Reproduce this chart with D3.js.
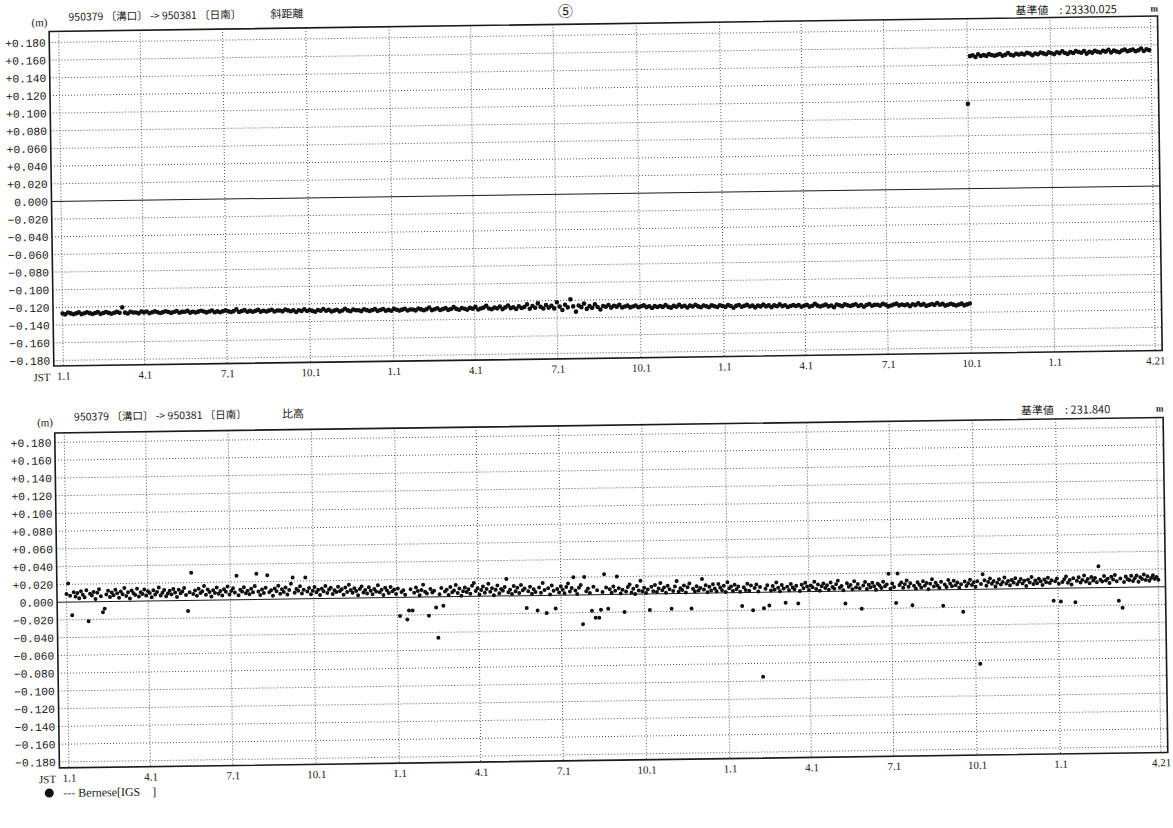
<!DOCTYPE html>
<html>
<head>
<meta charset="utf-8">
<script src="https://cdn.jsdelivr.net/npm/d3@7"></script>
<style>
body { margin: 0; background: #fff; }
svg { display: block; }
</style>
</head>
<body>
<svg></svg>
<script>
const width = 1173;
const height = 828;
const tilt = -0.8; // the scanned page is a little rotated

// 斜距離: one value every 3 days, in mm
const slopeStep = 3;
const slopeStartA = "1997-01-01";
const slopeA = [
  -127,-128,-126,-127,-128,-127,-126,-128,-127,-126,
  -127,-128,-127,-126,-128,-127,-126,-127,-128,-127,
  -126,-127,-121,-127,-128,-126,-127,-127,-128,-126,
  -127,-126,-128,-127,-126,-127,-128,-127,-126,-127,
  -128,-127,-126,-128,-127,-127,-126,-128,-127,-128,
  -127,-126,-127,-128,-127,-126,-128,-127,-128,-127,
  -126,-127,-128,-127,-125,-128,-127,-126,-128,-127,
  -128,-127,-126,-128,-127,-128,-127,-126,-128,-127,
  -127,-128,-126,-127,-128,-127,-129,-127,-128,-126,
  -128,-127,-128,-129,-127,-128,-126,-128,-127,-129,
  -128,-127,-129,-128,-126,-128,-129,-127,-128,-128,
  -129,-127,-128,-129,-128,-127,-129,-128,-127,-129,
  -128,-129,-127,-128,-129,-128,-127,-129,-128,-128,
  -129,-127,-128,-129,-128,-126,-129,-128,-127,-129,
  -128,-127,-129,-128,-126,-128,-129,-127,-128,-129,
  -127,-128,-126,-129,-128,-127,-125,-128,-129,-127,
  -128,-126,-129,-127,-125,-128,-127,-129,-126,-128,
  -127,-124,-129,-126,-128,-123,-127,-129,-125,-128,
  -126,-129,-122,-127,-131,-125,-128,-119,-127,-133,
  -126,-128,-124,-130,-127,-129,-125,-128,-131,-127,
  -128,-126,-129,-127,-128,-126,-129,-128,-127,-129,
  -128,-127,-129,-128,-127,-129,-128,-130,-128,-129,
  -128,-129,-127,-129,-130,-128,-129,-127,-129,-128,
  -130,-128,-129,-127,-129,-130,-128,-129,-130,-128,
  -129,-130,-128,-129,-130,-128,-129,-131,-129,-128,
  -130,-129,-128,-130,-129,-131,-129,-130,-128,-130,
  -129,-131,-129,-130,-128,-130,-129,-131,-130,-129,
  -130,-129,-131,-130,-129,-131,-130,-128,-130,-131,
  -130,-129,-131,-130,-132,-129,-130,-131,-129,-130,
  -131,-130,-129,-131,-130,-132,-130,-129,-131,-130,
  -130,-131,-129,-130,-132,-131,-130,-129,-131,-130,
  -131,-130,-132,-130,-131,-129,-131,-130,-132,-131,
  -130,-131,-129,-131,-130,-132,-131,-130,-131,-132,
  -131,-130,-132,-131,-130
];

const slopeStartB = "1999-10-01";
const slopeB = [
  96,150,151,149,152,150,151,150,152,151,
  150,151,152,150,151,153,151,150,152,151,
  152,151,153,152,150,152,151,153,152,151,
  153,152,151,153,152,154,152,151,153,152,
  154,153,152,154,151,153,152,154,153,152,
  154,153,155,152,154,153,152,154,155,153,
  154,155,153,154,156,153,155,154
];

// 比高: one value every 2 days, in mm
const heightStep = 2;
const heightStart = "1997-01-01";
const heightVals = [
  9,21,7,-15,11,6,10,4,12,8,
  5,13,-22,9,7,11,3,10,14,6,
  -12,-8,8,12,5,10,7,13,9,4,
  11,8,15,6,10,3,12,9,7,14,
  5,10,8,13,6,11,9,4,12,7,
  10,15,6,9,12,5,8,11,7,13,
  9,4,12,8,10,14,6,-12,9,31,
  7,11,5,13,8,10,16,6,12,9,
  4,11,8,14,7,10,5,12,9,15,
  6,10,13,8,27,5,11,9,14,7,
  10,6,12,8,15,29,9,5,11,7,
  13,27,8,10,4,12,9,15,6,11,
  8,13,5,10,17,24,7,11,9,14,
  6,10,24,8,12,5,9,13,7,10,
  4,11,8,14,6,10,12,5,9,7,
  13,8,10,4,12,7,15,9,6,11,
  8,3,10,13,6,9,5,12,8,4,
  10,7,14,6,9,3,11,8,5,12,
  7,9,4,10,-21,6,8,3,-25,-15,
  9,-15,5,11,7,2,8,14,6,4,
  -21,9,5,7,-12,-46,3,10,-10,6,
  8,2,11,5,7,13,4,9,1,6,
  10,5,8,3,12,15,6,9,2,7,
  11,4,8,14,5,9,1,7,12,3,
  8,6,10,19,4,7,2,11,5,9,
  3,12,6,8,-14,5,10,2,7,4,
  -17,9,3,14,6,-20,8,1,11,5,
  -15,7,3,10,6,2,9,13,4,8,
  20,5,1,8,11,-33,20,4,7,2,
  -18,9,-26,5,-26,-17,3,23,8,-16,
  6,2,9,4,20,7,1,5,-20,3,
  8,11,2,6,0,9,4,15,3,7,
  1,5,-18,8,3,10,2,6,12,4,
  7,1,9,5,-17,3,8,14,2,6,
  4,9,1,7,11,-17,5,2,8,3,
  6,16,4,9,1,7,3,10,5,2,
  10,6,3,8,1,12,5,7,2,9,
  4,7,1,-15,6,3,10,2,8,-20,
  5,9,1,6,-95,-18,4,8,-15,2,
  7,3,11,5,1,8,4,-12,6,2,
  9,5,3,7,-13,1,8,4,10,6,
  2,7,5,11,3,8,1,6,9,4,
  7,2,10,5,3,8,12,4,6,1,
  -14,9,5,7,2,11,4,8,3,-20,
  6,10,2,7,4,9,5,1,8,6,
  3,10,5,7,19,2,8,4,-14,19,
  6,9,3,7,11,4,8,-17,5,2,
  9,6,3,10,5,8,1,7,12,4,
  8,5,2,9,-18,6,3,11,7,4,
  10,5,8,2,6,-25,9,4,7,11,
  5,8,3,9,-84,6,17,10,4,8,
  12,6,9,3,7,11,5,8,13,6,
  9,4,10,7,12,5,8,11,6,9,
  3,10,7,13,5,9,6,11,8,4,
  10,7,12,6,9,-14,8,11,5,-15,
  7,10,13,6,9,4,11,-16,8,12,
  6,9,14,7,10,5,12,8,11,6,
  24,9,7,13,8,10,5,12,9,14,
  7,-15,10,-23,6,12,9,8,13,7,
  10,13,6,11,9,14,8,12,7,10,
  13,9,11,8
];

const xTicks = [
  "1997-01-01","1997-04-01","1997-07-01","1997-10-01",
  "1998-01-01","1998-04-01","1998-07-01","1998-10-01",
  "1999-01-01","1999-04-01","1999-07-01","1999-10-01",
  "2000-01-01","2000-04-21"
];
const yTicks = [0.18,0.16,0.14,0.12,0.10,0.08,0.06,0.04,0.02,0,
  -0.02,-0.04,-0.06,-0.08,-0.10,-0.12,-0.14,-0.16,-0.18];

const route = "950379 〔溝口〕 -> 950381 〔日南〕";
const kinds = ["斜距離", "比高"];
const baseValues = ["23330.025", "231.840"];

const parse = d3.timeParse("%Y-%m-%d");
const toPoints = (start, step, vals) => {
  const t0 = parse(start);
  return vals.map((v, i) => ({ date: d3.timeDay.offset(t0, i * step), v: v / 1000 }));
};

const svg = d3.select("svg").attr("width", width).attr("height", height);
const page = svg.append("g").attr("transform", `rotate(${tilt}, 50, 201)`);

const monoFont = "'Liberation Mono', 'DejaVu Sans Mono', monospace";
const serifFont = "'Liberation Serif', 'DejaVu Serif', serif";
const cjkFont = "'Noto Sans CJK JP', 'Noto Sans', sans-serif";
const ink = "#1a1a1a";

const left = 51.5, right = 1160;
const x = d3.scaleTime()
  .domain([parse(xTicks[0]), parse(xTicks[xTicks.length - 1])])
  .range([61, 1153]);

const panels = [
  { top: 31.5, bottom: 366, yTop: 42.5, yBot: 360.5, head: 21, r: 2.3,
    data: toPoints(slopeStartA, slopeStep, slopeA).concat(toPoints(slopeStartB, slopeStep, slopeB)) },
  { top: 433, bottom: 768, yTop: 442.5, yBot: 762, head: 421, r: 2,
    data: toPoints(heightStart, heightStep, heightVals) }
];

function drawPanel(p, k) {
  const g = page.append("g");
  const y = d3.scaleLinear().domain([-0.18, 0.18]).range([p.yBot, p.yTop]);

  // header line
  g.append("text").attr("x", 34).attr("y", p.head + 5)
    .style("font-family", serifFont).style("font-size", "11px").attr("fill", ink)
    .text("(m)");
  g.append("text").attr("x", 71).attr("y", p.head)
    .style("font-family", cjkFont).style("font-size", "10.5px").attr("fill", ink)
    .text(route);
  g.append("text").attr("x", k === 0 ? 273 : 279).attr("y", p.head)
    .style("font-family", cjkFont).style("font-size", "11px").attr("fill", ink)
    .text(kinds[k]);
  g.append("text").attr("x", 1018).attr("y", p.head + 7)
    .style("font-family", cjkFont).style("font-size", "11px").attr("fill", ink)
    .text("基準値　: " + baseValues[k]);
  g.append("text").attr("x", 1153).attr("y", p.head + 6)
    .style("font-family", serifFont).style("font-size", "9px").style("font-weight", "bold")
    .attr("fill", ink).text("m");

  // grid
  g.selectAll(".hgrid").data(yTicks.filter(d => d !== 0)).join("line")
    .attr("x1", left).attr("x2", right)
    .attr("y1", d => y(d)).attr("y2", d => y(d))
    .attr("stroke", "#555").attr("stroke-width", 1).attr("stroke-dasharray", "1,2");
  g.selectAll(".vgrid").data(xTicks).join("line")
    .attr("x1", d => x(parse(d))).attr("x2", d => x(parse(d)))
    .attr("y1", p.top).attr("y2", p.bottom)
    .attr("stroke", "#555").attr("stroke-width", 1).attr("stroke-dasharray", "1,2");

  // zero line
  g.append("line").attr("x1", left).attr("x2", right)
    .attr("y1", y(0)).attr("y2", y(0)).attr("stroke", ink).attr("stroke-width", 1);

  // frame
  g.append("rect").attr("x", left).attr("y", p.top)
    .attr("width", right - left).attr("height", p.bottom - p.top)
    .attr("fill", "none").attr("stroke", ink).attr("stroke-width", 1.6);

  // dots
  g.append("g").selectAll("circle").data(p.data).join("circle")
    .attr("cx", d => x(d.date)).attr("cy", d => y(d.v))
    .attr("r", p.r).attr("fill", "#111");

  // y axis
  const yAxis = g.append("g").attr("transform", "translate(48,0)")
    .call(d3.axisLeft(y).tickValues(yTicks).tickSize(0).tickPadding(0)
      .tickFormat(v => Math.abs(v) < 1e-9 ? "0.000" : d3.format("+.3f")(v)));
  yAxis.select(".domain").remove();
  yAxis.selectAll("text").style("font-family", monoFont).style("font-size", "11.3px")
    .attr("fill", ink);

  // x axis
  const xAxis = g.append("g").attr("transform", `translate(0,${p.bottom})`)
    .call(d3.axisBottom(x).tickValues(xTicks.map(parse)).tickSize(0).tickPadding(6)
      .tickFormat(d3.timeFormat("%-m.%-d")));
  xAxis.select(".domain").remove();
  xAxis.selectAll("text").style("font-family", serifFont).style("font-size", "11px")
    .attr("fill", ink);
  g.append("text").attr("x", 48).attr("y", p.bottom + 15).attr("text-anchor", "end")
    .style("font-family", serifFont).style("font-size", "11px").attr("fill", ink)
    .text("JST");
}

panels.forEach(drawPanel);

// circled page number
page.append("text").attr("x", 568).attr("y", 24).attr("text-anchor", "middle")
  .style("font-family", cjkFont).style("font-size", "15px").attr("fill", ink)
  .text("⑤");

// legend
const legend = page.append("g").attr("transform", "translate(41,793)");
legend.append("circle").attr("cx", 0).attr("cy", 0).attr("r", 4.5).attr("fill", "#111");
legend.append("text").attr("x", 14).attr("y", 4)
  .style("font-family", serifFont).style("font-size", "12px").attr("fill", ink)
  .attr("xml:space", "preserve")
  .text("--- Bernese[IGS    ]");
</script>
</body>
</html>
